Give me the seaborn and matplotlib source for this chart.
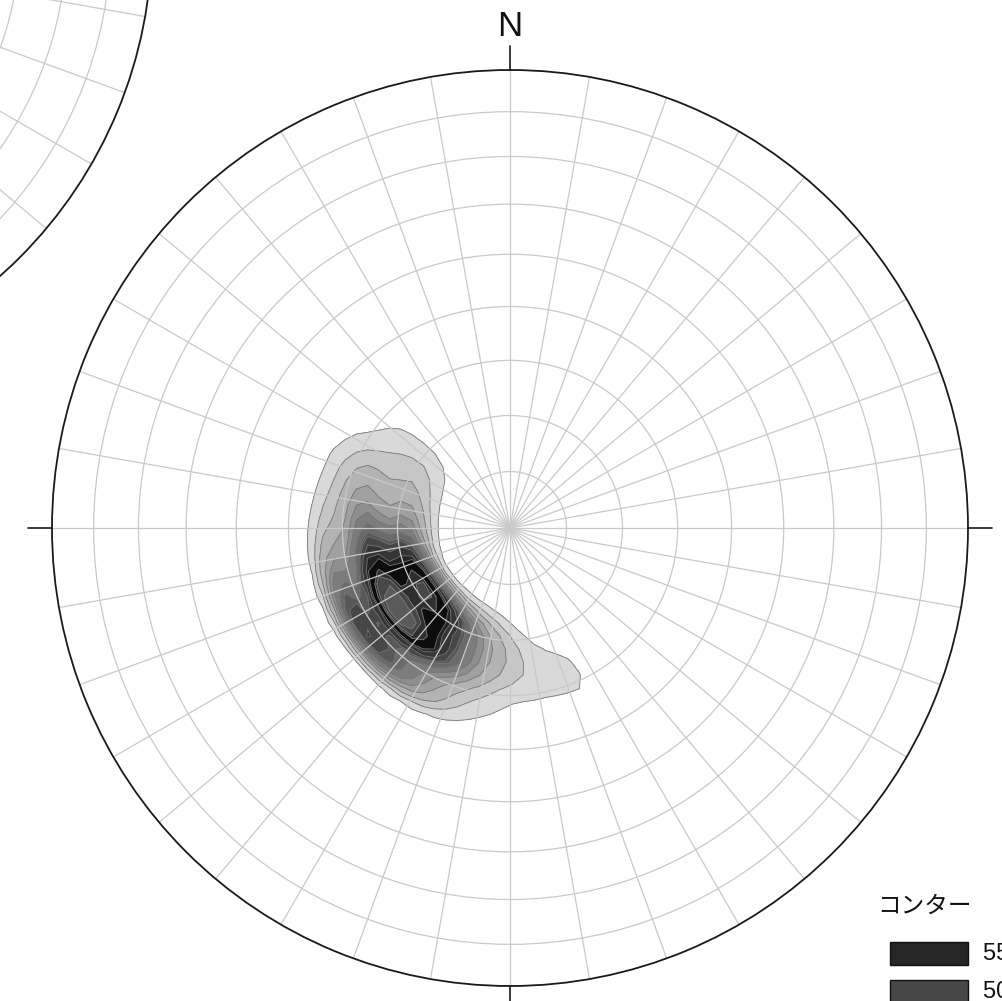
import numpy as np
import pandas as pd
import matplotlib
matplotlib.use("Agg")
import matplotlib.pyplot as plt
from matplotlib.patches import Rectangle
from matplotlib.colors import ListedColormap
import seaborn as sns

# Pole orientations: trend / plunge in degrees, with the number of measurements
trend = [155, 163, 171, 179, 187, 195, 203, 211, 219, 227, 235, 243, 251, 259, 267,
         275, 283, 291, 299, 307, 315,
         155, 163, 171, 179, 187, 195, 203, 211, 219, 227, 235, 243, 251, 259, 267,
         275, 283, 291, 299, 307, 315,
         155, 163, 171, 179, 187, 195, 203, 211, 219, 227, 235, 243, 251, 259, 267,
         275, 283, 291, 299, 307, 315]
plunge = [61, 62, 63, 64, 65, 65, 65, 65, 65, 65, 65, 65, 65, 65, 65,
          64, 64, 64, 65, 66, 68,
          66, 67, 68, 70, 71, 71, 71, 71, 71, 71, 71, 71, 71, 71, 72,
          72, 72, 72, 72, 73, 74,
          55, 56, 57, 57, 58, 58, 58, 58, 58, 58, 58, 58, 58, 58, 58,
          58, 58, 58, 59, 61, 62]
count = [2, 2, 2, 3, 4, 6, 9, 13, 18, 23, 25, 22, 17, 12, 9,
         7, 6, 5, 3, 2, 1,
         1, 1, 1, 2, 3, 4, 6, 9, 12, 15, 16, 14, 11, 8, 6,
         5, 4, 3, 3, 2, 1,
         1, 1, 1, 1, 2, 3, 5, 8, 11, 13, 14, 13, 10, 7, 5,
         4, 3, 3, 2, 1, 1]

# Contour classes (iso-proportion cuts), outermost to innermost, and their fills
contour_levels = [0.05, 0.11, 0.17, 0.23, 0.29, 0.35, 0.41, 0.47, 0.53, 0.59,
                  0.65, 0.71, 0.79, 0.87, 0.94, 1.0]
band_colors = ["#d9d9d9", "#c6c6c6", "#b3b3b3", "#a0a0a0", "#8e8e8e", "#7c7c7c",
               "#6a6a6a", "#585858", "#474747", "#353535", "#242424", "#0d0d0d",
               "#2e2e2e", "#474747", "#5a5a5a"]

# Legend entries (top rows of the class list)
legend_labels = ["55.00 - 60.00 %", "50.00 - 55.00 %", "45.00 - 50.00 %"]
legend_colors = ["#262626", "#474747", "#5a5a5a"]

# Net circles of the equal-area polar grid (degrees from the centre)
net_circles = [10, 20, 30, 40, 50, 60, 70, 80]
net_spokes = list(range(0, 360, 10))


def equal_area_radius(angle_from_centre_deg):
    return np.sqrt(2.0) * np.sin(np.radians(np.asarray(angle_from_centre_deg, float)) / 2.0)


sns.set_theme(style="white")
plt.rcParams["font.family"] = ["Liberation Sans", "Noto Sans CJK JP", "DejaVu Sans"]

W, H = 1002, 1001
fig = plt.figure(figsize=(W / 100, H / 100), dpi=100)
fig.patch.set_facecolor("white")


def make_net(rect, zorder=1):
    ax = fig.add_axes(rect, projection="polar", zorder=zorder)
    ax.set_theta_zero_location("N")
    ax.set_theta_direction(-1)
    ax.patch.set_alpha(0.0)
    ax.set_thetagrids(net_spokes, labels=[])
    ax.set_rgrids(equal_area_radius(net_circles), labels=[])
    ax.set_ylim(0, 1)
    ax.grid(True, color="#c9c9c9", linewidth=0.9)
    ax.tick_params(length=0)
    ax.spines["polar"].set_color("#1a1a1a")
    ax.spines["polar"].set_linewidth(1.3)
    return ax


main_rect = [52 / W, 15 / H, 916 / W, 916 / H]

# neighbouring net (partly outside the sheet)
make_net([-752 / W, (H - 390) / H, 904 / W, 904 / H])

# density contours on the projection plane, under the net
ax_den = fig.add_axes(main_rect, zorder=1)
ax_den.set_xlim(-1, 1)
ax_den.set_ylim(-1, 1)
ax_den.set_aspect("equal")
ax_den.axis("off")

r = equal_area_radius(90 - np.asarray(plunge, float))
az = np.radians(trend)
poles = pd.DataFrame({"x": r * np.sin(az), "y": r * np.cos(az),
                      "n": np.asarray(count, float)})

kde_kws = dict(data=poles, x="x", y="y", weights="n", ax=ax_den,
               levels=contour_levels, bw_adjust=0.62, gridsize=36, cut=3)
sns.kdeplot(fill=True, cmap=ListedColormap(band_colors), **kde_kws)
filled = ax_den.collections[-1]
filled.set_array(None)
filled.set_facecolor(band_colors)
sns.kdeplot(fill=False, colors="#787878", linewidths=0.6, **kde_kws)
ax_den.set_xlim(-1, 1)
ax_den.set_ylim(-1, 1)

# main net on top
ax = make_net(main_rect, zorder=2)

# cardinal ticks outside the primitive circle
for a in (0, 90, 180, 270):
    ax.plot([np.radians(a)] * 2, [1.0, 1.053], color="#1a1a1a", lw=1.2, clip_on=False)
ax.text(0, 1.095, "N", ha="center", va="center", fontsize=25, color="#111111")

# legend
fig.text(877 / W, 1 - 907 / H, "コンター", ha="left", va="center", fontsize=17,
         color="#111111")
for i, (lab, col) in enumerate(zip(legend_labels, legend_colors)):
    top = 942 + 38 * i
    fig.patches.append(Rectangle((890 / W, 1 - (top + 23) / H), 78 / W, 23 / H,
                                 transform=fig.transFigure, facecolor=col,
                                 edgecolor="#111111", linewidth=1.0))
    fig.text(983 / W, 1 - (top + 12) / H, lab, ha="left", va="center", fontsize=17,
             color="#111111")

fig.savefig("out.png", dpi=100, facecolor="white")
